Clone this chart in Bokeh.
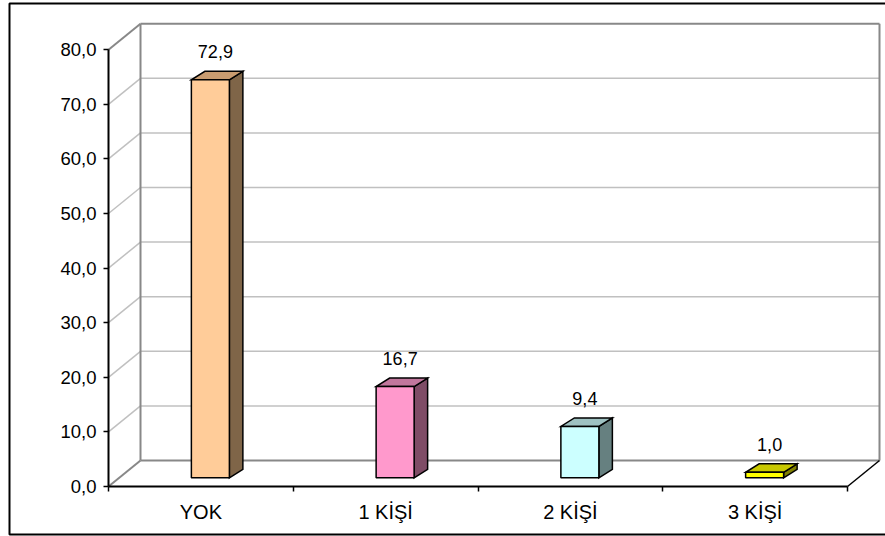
from bokeh.plotting import figure
from bokeh.models import Range1d, LinearAxis, FixedTicker
from bokeh.core.properties import value
from bokeh.embed import file_html
from bokeh.resources import INLINE

# ---- data ----
categories = ["YOK", "1 KİŞİ", "2 KİŞİ", "3 KİŞİ"]
values = [72.9, 16.7, 9.4, 1.0]
value_labels = ["72,9", "16,7", "9,4", "1,0"]
front_colors = ["#FFCC99", "#FF99CC", "#CCFFFF", "#FFFF00"]
top_colors = ["#C99C70", "#C2779D", "#9FC2C2", "#C8C800"]
side_colors = ["#7F6548", "#7F4C66", "#668080", "#808000"]
y_ticks = [0, 10, 20, 30, 40, 50, 60, 70, 80]
y_tick_labels = ["0,0", "10,0", "20,0", "30,0", "40,0", "50,0", "60,0", "70,0", "80,0"]

# ---- layout of the pseudo-3D scene ----
W, H = 885, 536
PX_CAT = 184.75      # pixels per category slot
PX_VAL = 5.46        # pixels per value unit
ORIGIN_X, ORIGIN_Y = 108, 486   # where the front axes meet on the canvas


def ux(px):
    return px / PX_CAT


def uy(px):
    return px / PX_VAL


n = len(categories)
y_max = y_ticks[-1]
DX, DY = ux(32), uy(26)          # depth of the walls
BAR_SX, BAR_SY = ux(9.5), uy(8.7)    # bar front face offset into the floor
BAR_DX, BAR_DY = ux(13.5), uy(8.5)   # bar depth
BAR_HALF = ux(19)

FONT = "Liberation Sans"

p = figure(
    width=W, height=H,
    x_range=Range1d(-ux(ORIGIN_X), ux(W - ORIGIN_X)),
    y_range=Range1d(-uy(H - ORIGIN_Y), uy(ORIGIN_Y)),
    x_axis_type=None, y_axis_type=None,
    output_backend="svg", toolbar_location=None,
    min_border=0, outline_line_color=None,
    background_fill_color="white", border_fill_color="white",
)

# outer chart border
p.quad(left=[ux(9 - ORIGIN_X)], right=[ux(W + 10 - ORIGIN_X)],
       top=[uy(ORIGIN_Y - 3)], bottom=[-uy(534 - ORIGIN_Y)],
       fill_color=None, line_color="black", line_width=2)

# light gridlines on the back wall and the side wall
inner = y_ticks[1:-1]
p.segment(x0=[DX] * len(inner), y0=[v + DY for v in inner],
          x1=[n + DX] * len(inner), y1=[v + DY for v in inner],
          line_color="#C0C0C0", line_width=1.5)
p.segment(x0=[0] * len(inner), y0=inner,
          x1=[DX] * len(inner), y1=[v + DY for v in inner],
          line_color="#C0C0C0", line_width=1.5)

# wall edges
edge_x0 = [DX, DX, DX, n + DX, 0, 0]
edge_y0 = [y_max + DY, DY, DY, DY, y_max, 0]
edge_x1 = [n + DX, n + DX, DX, n + DX, DX, DX]
edge_y1 = [y_max + DY, DY, y_max + DY, y_max + DY, y_max + DY, DY]
p.segment(x0=edge_x0, y0=edge_y0, x1=edge_x1, y1=edge_y1,
          line_color="#888888", line_width=2)

# right edge of the floor
p.segment(x0=[n], y0=[0], x1=[n + DX], y1=[DY], line_color="black", line_width=1.5)

# ---- bars ----
left, right, bottom, tops = [], [], [], []
side_xs, side_ys, top_xs, top_ys = [], [], [], []
lab_x, lab_y = [], []
for i, v in enumerate(values):
    cx = i + 0.5 + BAR_SX
    xl, xr = cx - BAR_HALF, cx + BAR_HALF
    b = BAR_SY
    t = BAR_SY + v
    left.append(xl); right.append(xr); bottom.append(b); tops.append(t)
    side_xs.append([xr, xr + BAR_DX, xr + BAR_DX, xr])
    side_ys.append([b, b + BAR_DY, t + BAR_DY, t])
    top_xs.append([xl, xr, xr + BAR_DX, xl + BAR_DX])
    top_ys.append([t, t, t + BAR_DY, t + BAR_DY])
    lab_x.append(cx + ux(5))
    lab_y.append(t + uy(28))

p.patches(xs=side_xs, ys=side_ys, fill_color=side_colors,
          line_color="black", line_width=1.5, line_join="miter")
p.patches(xs=top_xs, ys=top_ys, fill_color=top_colors,
          line_color="black", line_width=1.5, line_join="miter")
p.quad(left=left, right=right, bottom=bottom, top=tops,
       fill_color=front_colors, line_color="black", line_width=1.5)

p.text(x=lab_x, y=lab_y, text=value_labels,
       text_font=value(FONT), text_font_size="18px", text_color="black",
       text_align="center", text_baseline="middle")

# ---- axes ----
yaxis = LinearAxis(
    fixed_location=0, bounds=(0, y_max),
    ticker=FixedTicker(ticks=y_ticks),
    major_label_overrides={t: s for t, s in zip(y_ticks, y_tick_labels)},
    major_tick_out=5, major_tick_in=0, minor_tick_out=0, minor_tick_in=0,
    major_label_standoff=7,
    axis_line_color="black", axis_line_width=2,
    major_tick_line_color="black", major_tick_line_width=1.5,
    major_label_text_font=FONT, major_label_text_font_size="18.5px",
    major_label_text_color="black",
)
p.add_layout(yaxis, "left")

xaxis = LinearAxis(
    fixed_location=0, bounds=(0, n),
    ticker=FixedTicker(ticks=list(range(n + 1))),
    major_label_overrides={i: "" for i in range(n + 1)},
    major_tick_out=5, major_tick_in=0, minor_tick_out=0, minor_tick_in=0,
    axis_line_color="black", axis_line_width=2,
    major_tick_line_color="black", major_tick_line_width=1.5,
)
p.add_layout(xaxis, "below")

centers = [i + 0.5 for i in range(n)]
xlabels = LinearAxis(
    fixed_location=0, bounds=(0, n),
    ticker=FixedTicker(ticks=centers),
    major_label_overrides={c: name for c, name in zip(centers, categories)},
    major_tick_out=5, major_tick_in=0, minor_tick_out=0, minor_tick_in=0,
    major_tick_line_color=None, axis_line_color=None,
    major_label_standoff=9,
    major_label_text_font=FONT, major_label_text_font_size="20px",
    major_label_text_color="black",
)
p.add_layout(xlabels, "below")

open("out.html", "w").write(file_html(p, INLINE))
